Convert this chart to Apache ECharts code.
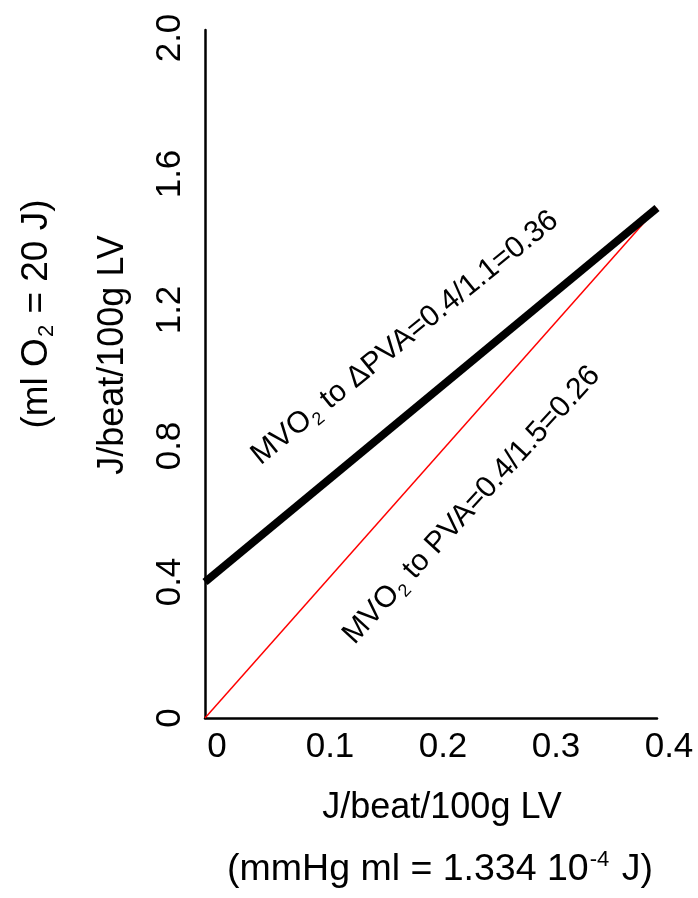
<!DOCTYPE html>
<html>
<head>
<meta charset="utf-8">
<style>
  html, body { margin: 0; padding: 0; background: #fff; }
  #chart { width: 698px; height: 898px; }
</style>
<script src="https://cdn.jsdelivr.net/npm/echarts@6/dist/echarts.min.js"></script>
</head>
<body>
<div id="chart"></div>
<script>
// Energy per beat: x = J/beat/100g LV, y = J/beat/100g LV
const xValues = [0, 0.4];
const deltaPvaLine = [0.4, 1.5];   // MVO2 vs ΔPVA (intercept 0.4)
const pvaLine = [0, 1.5];          // MVO2 vs PVA (through origin)
const xTicks = [0, 0.1, 0.2, 0.3, 0.4];
const yTicks = [0, 0.4, 0.8, 1.2, 1.6, 2.0];
const yTickText = ['0', '0.4', '0.8', '1.2', '1.6', '2.0'];

const FONT = 'Arial, "Liberation Sans", Helvetica, sans-serif';

function pairs(xs, ys) { return xs.map((x, i) => [x, ys[i]]); }

const chart = echarts.init(document.getElementById('chart'));

const noBorder = { textBorderWidth: 0, textShadowBlur: 0 };

chart.setOption({
  animation: false,
  backgroundColor: '#ffffff',
  grid: { left: 205, right: 41, top: 30, bottom: 180 },
  xAxis: {
    type: 'value',
    min: 0, max: 0.4, interval: 0.1,
    splitLine: { show: false },
    axisTick: { show: false },
    axisLine: { lineStyle: { color: '#000', width: 2.5 } },
    axisLabel: {
      color: '#000', fontSize: 35, fontFamily: FONT, margin: 12,
      padding: [0, 0, 0, 24],
      formatter: v => xTicks.includes(Math.round(v * 10) / 10) ? String(Math.round(v * 10) / 10) : ''
    }
  },
  yAxis: {
    type: 'value',
    min: 0, max: 2.0235, interval: 0.4,
    splitLine: { show: false },
    axisTick: { show: false },
    axisLine: { show: true, lineStyle: { color: '#000', width: 2.5 } },
    axisLabel: {
      color: '#000', fontSize: 35, fontFamily: FONT, margin: 17, rotate: 90,
      showMaxLabel: false,
      formatter: v => {
        const i = yTicks.findIndex(t => Math.abs(t - v) < 1e-6);
        return i >= 0 ? yTickText[i] : '';
      }
    }
  },
  series: [
    {
      name: 'MVO2 vs PVA',
      type: 'line',
      data: pairs(xValues, pvaLine),
      symbol: 'none',
      lineStyle: { color: '#ff0000', width: 1.5 },
      z: 2
    },
    {
      name: 'MVO2 vs ΔPVA',
      type: 'line',
      data: pairs(xValues, deltaPvaLine),
      symbol: 'none',
      lineStyle: { color: '#000', width: 8, cap: 'butt' },
      z: 3
    },
    {
      name: 'annotations',
      type: 'scatter',
      symbolSize: 0,
      silent: true,
      itemStyle: { color: '#000', opacity: 1 },
      data: [
        { value: [0.177, 1.118], label: { rotate: 39, formatter: '{n|MVO}{s|2}{n| to ΔPVA=0.4/1.1=0.36}' } },
        { value: [0.236, 0.626], label: { rotate: 47.5, formatter: '{n|MVO}{s|2}{n| to PVA=0.4/1.5=0.26}' } }
      ],
      label: {
        show: true,
        position: 'inside',
        color: '#000',
        opacity: 1,
        ...noBorder,
        rich: {
          n: { fontSize: 30, fontFamily: FONT, color: '#000', lineHeight: 34, verticalAlign: 'middle', ...noBorder },
          s: { fontSize: 18, fontFamily: FONT, color: '#000', lineHeight: 36, verticalAlign: 'bottom', padding: [0, 1, 0, 1], ...noBorder }
        }
      },
      z: 4
    }
  ],
  graphic: [
    {
      type: 'text', x: 113, y: 355, rotation: Math.PI / 2,
      style: { text: 'J/beat/100g LV', font: '36px ' + FONT, fill: '#000', align: 'center', verticalAlign: 'middle' }
    },
    {
      type: 'text', x: 37, y: 314, rotation: Math.PI / 2,
      style: {
        text: '{a|(ml O}{s|2}{a| = 20 J)}',
        align: 'center', verticalAlign: 'middle',
        rich: {
          a: { fontSize: 37, fontFamily: FONT, fill: '#000', lineHeight: 42, verticalAlign: 'middle' },
          s: { fontSize: 22, fontFamily: FONT, fill: '#000', lineHeight: 42, verticalAlign: 'bottom', padding: [0, 1, 0, 1] }
        }
      }
    },
    {
      type: 'text', x: 442, y: 808,
      style: { text: 'J/beat/100g LV', font: '36px ' + FONT, fill: '#000', align: 'center', verticalAlign: 'middle' }
    },
    {
      type: 'text', x: 440, y: 870,
      style: {
        text: '{a|(mmHg ml = 1.334 10}{p|-4}{a| J)}',
        align: 'center', verticalAlign: 'middle',
        rich: {
          a: { fontSize: 37.5, fontFamily: FONT, fill: '#000', lineHeight: 42, verticalAlign: 'middle' },
          p: { fontSize: 22, fontFamily: FONT, fill: '#000', lineHeight: 42, verticalAlign: 'top', padding: [0, 2, 0, 1] }
        }
      }
    }
  ]
});
</script>
</body>
</html>
